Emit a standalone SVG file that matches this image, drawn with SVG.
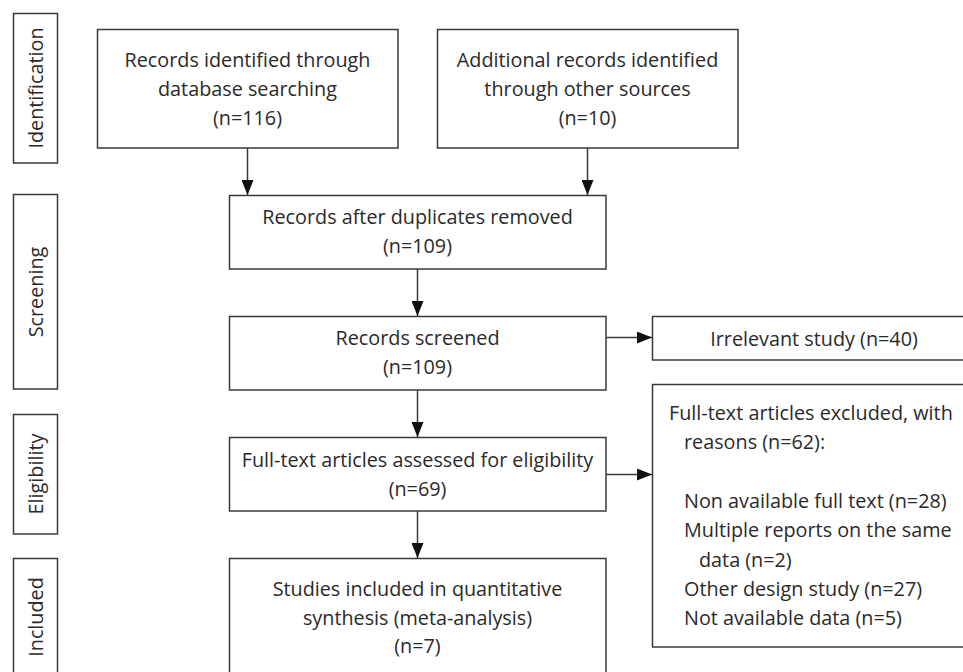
<svg xmlns="http://www.w3.org/2000/svg" width="963" height="672" viewBox="0 0 963 672">
<defs>
<style>
.box{fill:#fff;stroke:#3a3a3a;stroke-width:1.5}
.t{font-family:"Open Sans","Liberation Sans",sans-serif;font-size:19.8px;fill:#2a2a2a}
.c{text-anchor:middle}
.ln{stroke:#3a3a3a;stroke-width:1.5;fill:none}
</style>
<marker id="ah" markerUnits="userSpaceOnUse" markerWidth="15" markerHeight="12" refX="15" refY="6" orient="auto">
<path d="M0,0 L15,6 L0,12 z" fill="#111"/>
</marker>
</defs>
<rect width="963" height="672" fill="#fff"/>
<g id="stage-identification">
<rect class="box" x="13.5" y="13.5" width="44" height="149.5"/>
<text class="t c" transform="translate(43,88) rotate(-90)">Identification</text>
</g>
<g id="stage-screening">
<rect class="box" x="13.5" y="194.5" width="44" height="194.5"/>
<text class="t c" transform="translate(43,292) rotate(-90)">Screening</text>
</g>
<g id="stage-eligibility">
<rect class="box" x="13.5" y="414.5" width="44" height="119.5"/>
<text class="t c" transform="translate(43,474) rotate(-90)">Eligibility</text>
</g>
<g id="stage-included">
<rect class="box" x="13.5" y="558.5" width="44" height="130"/>
<text class="t c" transform="translate(43,617) rotate(-90)">Included</text>
</g>
<g id="connectors">
<line class="ln" x1="247.5" y1="148" x2="247.5" y2="195" marker-end="url(#ah)"/>
<line class="ln" x1="587.5" y1="148" x2="587.5" y2="195" marker-end="url(#ah)"/>
<line class="ln" x1="417.5" y1="269" x2="417.5" y2="316" marker-end="url(#ah)"/>
<line class="ln" x1="417.5" y1="390" x2="417.5" y2="437" marker-end="url(#ah)"/>
<line class="ln" x1="417.5" y1="511" x2="417.5" y2="558" marker-end="url(#ah)"/>
<line class="ln" x1="606" y1="337.5" x2="652" y2="337.5" marker-end="url(#ah)"/>
<line class="ln" x1="606" y1="474.5" x2="652" y2="474.5" marker-end="url(#ah)"/>
</g>
<g id="db-records">
<rect class="box" x="97.5" y="29.5" width="300.5" height="118.5"/>
<text class="t c" x="247.5" y="67">Records identified through</text>
<text class="t c" x="247.5" y="96">database searching</text>
<text class="t c" x="247.5" y="125">(n=116)</text>
</g>
<g id="other-records">
<rect class="box" x="437.5" y="29.5" width="300.5" height="118.5"/>
<text class="t c" x="587.5" y="67">Additional records identified</text>
<text class="t c" x="587.5" y="96">through other sources</text>
<text class="t c" x="587.5" y="125">(n=10)</text>
</g>
<g id="dup-removed">
<rect class="box" x="229.5" y="195.5" width="376.5" height="73.5"/>
<text class="t c" x="417.5" y="224">Records after duplicates removed</text>
<text class="t c" x="417.5" y="253">(n=109)</text>
</g>
<g id="screened">
<rect class="box" x="229.5" y="316.5" width="376.5" height="73.5"/>
<text class="t c" x="417.5" y="345">Records screened</text>
<text class="t c" x="417.5" y="374">(n=109)</text>
</g>
<g id="fulltext">
<rect class="box" x="229.5" y="437.5" width="376.5" height="73.5"/>
<text class="t c" x="417.5" y="467">Full-text articles assessed for eligibility</text>
<text class="t c" x="417.5" y="496">(n=69)</text>
</g>
<g id="included">
<rect class="box" x="229.5" y="558.5" width="376.5" height="130"/>
<text class="t c" x="417.5" y="596">Studies included in quantitative</text>
<text class="t c" x="417.5" y="625">synthesis (meta-analysis)</text>
<text class="t c" x="417.5" y="653">(n=7)</text>
</g>
<g id="irrelevant">
<rect class="box" x="652.5" y="316.5" width="330" height="43.5"/>
<text class="t c" x="814" y="346">Irrelevant study (n=40)</text>
</g>
<g id="excluded">
<rect class="box" x="652.5" y="384.5" width="330" height="262.5"/>
<text class="t" x="669" y="420">Full-text articles excluded, with</text>
<text class="t" x="684" y="449">reasons (n=62):</text>
<text class="t" x="684" y="508">Non available full text (n=28)</text>
<text class="t" x="684" y="537">Multiple reports on the same</text>
<text class="t" x="699" y="567">data (n=2)</text>
<text class="t" x="684" y="596">Other design study (n=27)</text>
<text class="t" x="684" y="625">Not available data (n=5)</text>
</g>
</svg>
